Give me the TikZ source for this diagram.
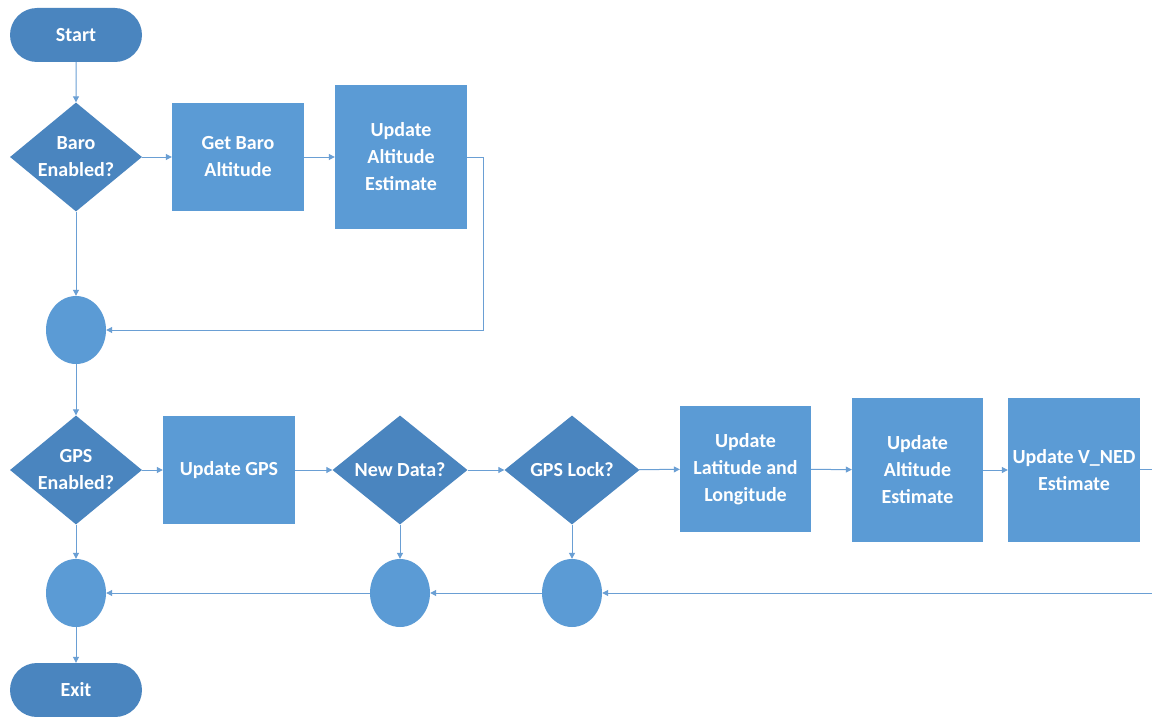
\documentclass[tikz,border=0pt]{standalone}
\usepackage{fontspec}
\setmainfont{Carlito}
\usetikzlibrary{shapes.geometric,shapes.misc,arrows.meta}
\definecolor{procblue}{HTML}{5B9BD5}
\definecolor{decblue}{HTML}{4A85BF}
\definecolor{linkblue}{HTML}{6A9FD4}
\tikzset{
  x=1pt, y=-1pt,
  every node/.style={text=white, font=\fontsize{20}{27}\selectfont\bfseries, align=center, inner sep=0pt},
  terminal/.style={draw=none, fill=decblue, rounded rectangle, minimum width=132pt, minimum height=54pt},
  decision/.style={draw=none, fill=decblue, diamond, aspect=1.22, minimum width=132pt, minimum height=109pt},
  process/.style={draw=none, fill=procblue, rectangle, minimum width=132pt, minimum height=#1},
  process/.default=108pt,
  junction/.style={draw=none, fill=procblue, ellipse, minimum width=60pt, minimum height=68pt},
  link/.style={draw=linkblue, line width=1pt, -{Triangle[length=6pt,width=6pt]}},
  plainlink/.style={draw=linkblue, line width=1pt}
}
\begin{document}
\begin{tikzpicture}
\useasboundingbox (0,0) rectangle (1152,717);
\fill[white] (0,0) rectangle (1152,717);

% upper branch: barometer
\node[terminal] (start) at (76,35) {Start};
\node[decision] (baro) at (76,157) {Baro\\Enabled?};
\node[process] (getbaro) at (238,157) {Get Baro\\Altitude};
\node[process=144pt] (altA) at (401,157) {Update\\Altitude\\Estimate};
\node[junction] (j1) at (76,330) {};
\coordinate (altAturn) at (483,157);
\coordinate (altAdown) at (483,330);

% lower branch: GPS
\node[decision] (gps) at (76,470) {GPS\\Enabled?};
\node[process] (updgps) at (229,470) {Update GPS};
\node[decision, aspect=1.24, minimum width=135pt] (newdata) at (400,470) {New Data?};
\node[decision, aspect=1.24, minimum width=135pt] (lock) at (572,470) {GPS Lock?};
\node[process=126pt, minimum width=131pt] (latlon) at (745.5,469) {Update\\Latitude and\\Longitude};
\node[process=144pt, minimum width=131pt] (altB) at (917.5,470) {Update\\Altitude\\Estimate};
\node[process=144pt] (vned) at (1074,470) {Update V\_NED\\Estimate};
\coordinate (outR) at (1152,469);
\coordinate (inR) at (1152,593);

\node[junction] (j2) at (76,593) {};
\node[junction] (j3) at (400,593) {};
\node[junction] (j4) at (572,593) {};
\node[terminal] (exit) at (76,690) {Exit};

% connectors
\draw[link] (start) -- (baro);
\draw[link] (baro) -- (getbaro);
\draw[link] (getbaro) -- (altA);
\draw[link] (baro) -- (j1);
\draw[link] (altA.east) -- (altAturn) -- (altAdown) -- (j1);
\draw[link] (j1) -- (gps);

\draw[link] (gps) -- (updgps);
\draw[link] (updgps) -- (newdata);
\draw[link] (newdata) -- (lock);
\draw[link] (lock) -- (latlon);
\draw[link] (latlon) -- (altB);
\draw[link] (altB) -- (vned);
\draw[plainlink] (vned.east |- outR) -- (outR);

\draw[link] (gps) -- (j2);
\draw[link] (newdata) -- (j3);
\draw[link] (lock) -- (j4);
\draw[link] (inR) -- (j4);
\draw[link] (j4) -- (j3);
\draw[link] (j3) -- (j2);
\draw[link] (j2) -- (exit);
\end{tikzpicture}
\end{document}
